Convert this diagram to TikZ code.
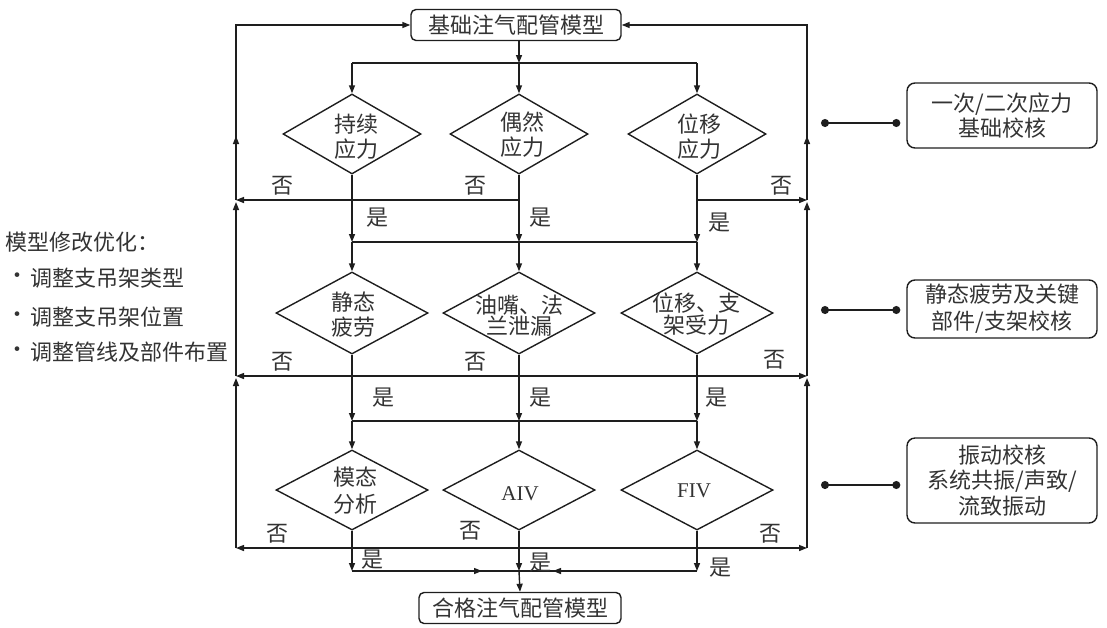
\documentclass[tikz,border=0pt]{standalone}
\usepackage{fontspec}
\setmainfont{Noto Sans CJK SC}
\newfontfamily\latinserif{Liberation Serif}
\usetikzlibrary{shapes.geometric,arrows.meta}
\definecolor{lc}{HTML}{1E1E1E}
\definecolor{tc}{HTML}{333333}
\begin{document}
\begin{tikzpicture}[x=1pt,y=-1pt,
  line/.style={draw=lc, line width=1.4pt},
  arr/.style={line, -{Triangle[length=8pt,width=6pt]}},
  darr/.style={line, {Triangle[length=8pt,width=6pt]}-{Triangle[length=8pt,width=6pt]}},
  dotc/.style={line, {Circle[length=8pt]}-{Circle[length=8pt]}},
  txt/.style={font=\fontsize{22}{25}\selectfont, text=tc, inner sep=0pt, align=center},
  box/.style={txt, draw=lc, line width=1.4pt, rounded corners=5pt, minimum width=210pt, minimum height=31pt},
  rbox/.style={txt, draw=lc, line width=1.4pt, rounded corners=8pt, minimum width=190pt},
  diaA/.style={diamond, draw=lc, line width=1.4pt, minimum width=138pt, minimum height=80pt, inner sep=0pt},
  diaB/.style={diamond, draw=lc, line width=1.4pt, minimum width=152pt, minimum height=82pt, inner sep=0pt},
  diaC/.style={diamond, draw=lc, line width=1.4pt, minimum width=152pt, minimum height=80pt, inner sep=0pt},
  ser/.style={font=\latinserif\fontsize{21}{24}\selectfont, text=tc, inner sep=0pt}
]
\useasboundingbox (0,0) rectangle (1107,627);

% main boxes
\node[box] (top) at (516,25) {基础注气配管模型};
\node[box, minimum width=202pt] (bot) at (520,608) {合格注气配管模型};

% row 1 diamonds
\node[diaA] (d11) at (352,134) {};
\node[diaA] (d12) at (519,134) {};
\node[diaA] (d13) at (697,134) {};
\node[txt] (t11) at (356,137) {持续\\应力};
\node[txt] (t12) at (522,135) {偶然\\应力};
\node[txt] (t13) at (699,137) {位移\\应力};

% row 2 diamonds
\node[diaB] (d21) at (352,313) {};
\node[diaB] (d22) at (519,313) {};
\node[diaB] (d23) at (697,313) {};
\node[txt] (t21) at (353,315) {静态\\疲劳};
\node[txt, font=\fontsize{22}{21}\selectfont] (t22) at (519,316) {油嘴、法\\兰泄漏};
\node[txt, font=\fontsize{22}{20}\selectfont] (t23) at (696,314) {位移、支\\架受力};

% row 3 diamonds
\node[diaC] (d31) at (352,490) {};
\node[diaC] (d32) at (519,490) {};
\node[diaC] (d33) at (697,490) {};
\node[txt, font=\fontsize{22}{27}\selectfont] (t31) at (355,491) {模态\\分析};
\node[ser] (t32) at (520,494) {AIV};
\node[ser] (t33) at (694,491) {FIV};

% coordinates
\coordinate (s1) at (519,63);
\coordinate (s1L) at (352,63);
\coordinate (s1R) at (697,63);
\coordinate (n1L) at (236,200);
\coordinate (n1R) at (807,200);
\coordinate (j1L) at (352,242);
\coordinate (j1R) at (697,242);
\coordinate (n2L) at (236,376);
\coordinate (n2R) at (807,376);
\coordinate (j2L) at (352,421);
\coordinate (j2R) at (697,421);
\coordinate (n3L) at (236,548);
\coordinate (n3R) at (807,548);
\coordinate (e1) at (352,571);
\coordinate (e2) at (519,571);
\coordinate (e3) at (697,571);
\coordinate (m1) at (482,571);
\coordinate (m3) at (553,571);
\coordinate (mL) at (236,136);
\coordinate (mR) at (807,136);

% top split
\draw[arr] (top.south -| s1) -- (s1);
\draw[line] (s1L) -- (s1R);
\draw[arr] (s1L) -- (d11.north);
\draw[arr] (s1) -- (d12.north);
\draw[arr] (s1R) -- (d13.north);

% row 1 outputs
\draw[arr] (d12.south |- n1L) -- (n1L);
\draw[arr] (d13.south |- n1R) -- (n1R);
\draw[arr] (d11.south) -- (j1L);
\draw[arr] (d12.south) -- (j1L -| d12);
\draw[arr] (d13.south) -- (j1R);
\draw[line] (j1L) -- (j1R);
\draw[arr] (j1L) -- (d21.north);
\draw[arr] (j1L -| d22) -- (d22.north);
\draw[arr] (j1R) -- (d23.north);

% row 2 outputs
\draw[darr] (n2L) -- (n2R);
\draw[arr] (d21.south) -- (j2L);
\draw[arr] (d22.south) -- (j2L -| d22);
\draw[arr] (d23.south) -- (j2R);
\draw[line] (j2L) -- (j2R);
\draw[arr] (j2L) -- (d31.north);
\draw[arr] (j2L -| d32) -- (d32.north);
\draw[arr] (j2R) -- (d33.north);

% row 3 outputs
\draw[darr] (n3L) -- (n3R);
\draw[arr] (d31.south) -- (e1);
\draw[arr] (d32.south) -- (e2);
\draw[arr] (d33.south) -- (e3);
\draw[line] (e1) -- (e3);
\draw[arr] (e1) -- (m1);
\draw[arr] (e3) -- (m3);
\draw[arr] (e2) -- (bot.north);

% outer feedback lines
\draw[arr, shorten >=2pt] (n3L) -- (n2L);
\draw[arr, shorten >=2pt] (n2L) -- (n1L);
\draw[arr] (n1L) |- (top.west);
\draw[arr] (n1L) -- (mL);
\draw[arr, shorten >=2pt] (n3R) -- (n2R);
\draw[arr, shorten >=2pt] (n2R) -- (n1R);
\draw[arr] (n1R) |- (top.east);
\draw[arr] (n1R) -- (mR);

% yes / no labels
\node[txt] (no11) at (282,186) {否};
\node[txt] (no12) at (475,186) {否};
\node[txt] (no13) at (781,186) {否};
\node[txt] (y11) at (377,218) {是};
\node[txt] (y12) at (540,218) {是};
\node[txt] (y13) at (719,223) {是};
\node[txt] (no21) at (282,362) {否};
\node[txt] (no22) at (475,362) {否};
\node[txt] (no23) at (774,360) {否};
\node[txt] (y21) at (383,398) {是};
\node[txt] (y22) at (540,398) {是};
\node[txt] (y23) at (716,398) {是};
\node[txt] (no31) at (277,534) {否};
\node[txt] (no32) at (470,531) {否};
\node[txt] (no33) at (770,534) {否};
\node[txt] (y31) at (372,560) {是};
\node[txt] (y32) at (540,563) {是};
\node[txt] (y33) at (720,568) {是};

% right side boxes
\node[rbox, minimum height=65pt] (r1) at (1002,115.5) {一次/二次应力\\基础校核};
\node[rbox, minimum height=58pt, font=\fontsize{22}{27}\selectfont] (r2) at (1002,309) {静态疲劳及关键\\部件/支架校核};
\node[rbox, minimum height=85pt, font=\fontsize{22}{25.5}\selectfont] (r3) at (1002,480.5) {振动校核\\系统共振/声致/\\流致振动};
\coordinate (c1) at (821,123);
\coordinate (c2) at (821,310);
\coordinate (c3) at (821,485);
\draw[dotc, shorten >=6pt] (c1) -- (c1 -| r1.west);
\draw[dotc, shorten >=6pt] (c2) -- (c2 -| r2.west);
\draw[dotc, shorten >=6pt] (c3) -- (c3 -| r3.west);

% left text
\node[txt, anchor=west] (m0) at (5,242) {模型修改优化：};
\node[txt] (b1) at (17,278) {·};
\node[txt] (b2) at (17,317) {·};
\node[txt] (b3) at (17,352) {·};
\node[txt, anchor=west] (l1) at (30,278) {调整支吊架类型};
\node[txt, anchor=west] (l2) at (30,317) {调整支吊架位置};
\node[txt, anchor=west] (l3) at (30,352) {调整管线及部件布置};
\end{tikzpicture}
\end{document}
